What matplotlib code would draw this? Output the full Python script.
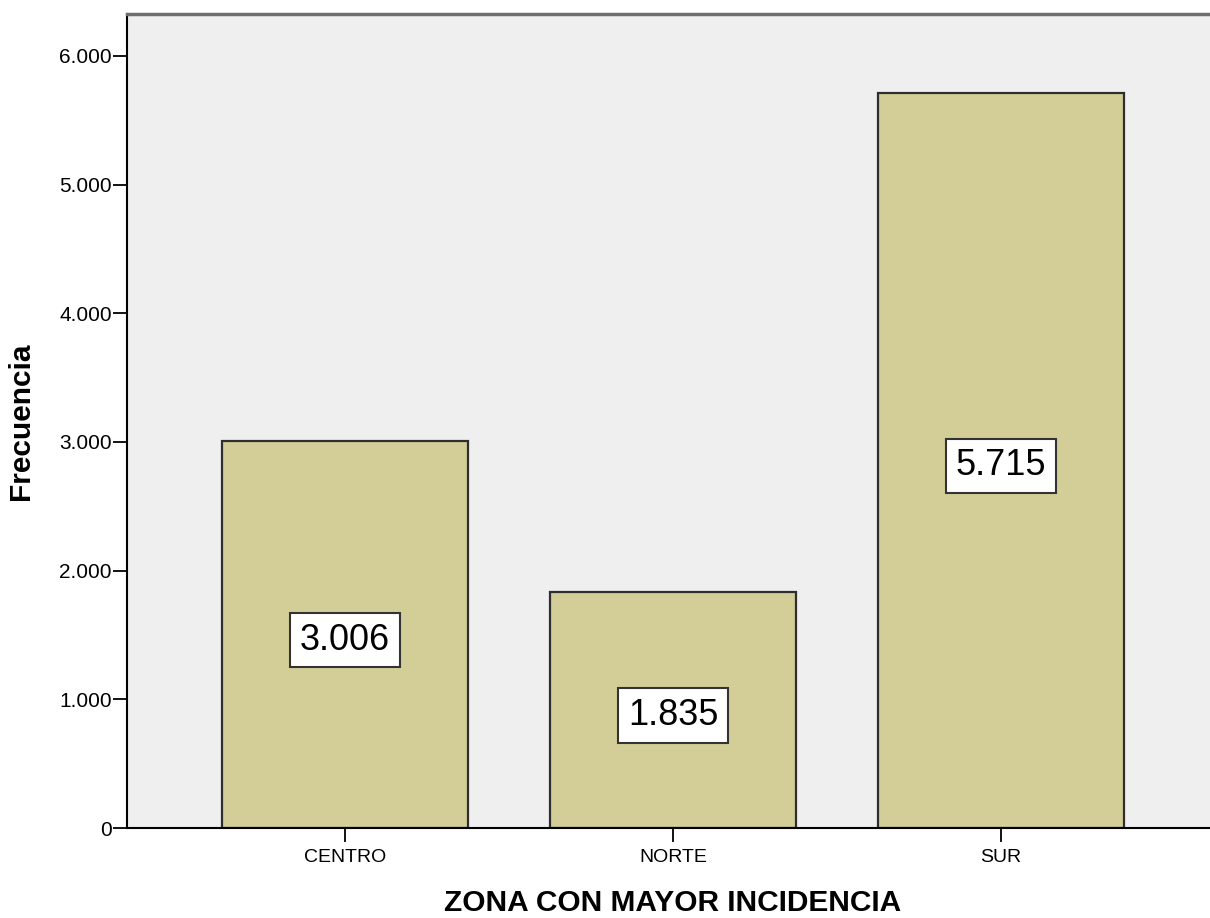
import matplotlib.pyplot as plt
from matplotlib.ticker import FuncFormatter

plt.rcParams['font.family'] = ['Liberation Sans', 'DejaVu Sans']

# data
zonas = ['CENTRO', 'NORTE', 'SUR']
frecuencias = [3006, 1835, 5715]
etiquetas = ['3.006', '1.835', '5.715']
y_ticks = [0, 1000, 2000, 3000, 4000, 5000, 6000]


def miles(v, pos):
    # SPSS style thousands separator
    return f"{int(v):,}".replace(',', '.')


fig = plt.figure(figsize=(12.1, 9.18), dpi=100)
ax = fig.add_axes([127 / 1210, 1 - 828 / 918, 1 - 127 / 1210, (828 - 14) / 918])
ax.set_facecolor('#efefef')

x = list(range(len(zonas)))
ax.bar(x, frecuencias, width=0.75, color='#d3ce97', edgecolor='#2e2e2e', linewidth=1.6)

# value boxes in the middle of each bar
for xi, val, txt in zip(x, frecuencias, etiquetas):
    ax.annotate(txt, (xi, val / 2), xytext=(0, -4), textcoords='offset points',
                ha='center', va='center', fontsize=26,
                bbox=dict(boxstyle='square,pad=0.27', facecolor='white',
                          edgecolor='#333333', linewidth=1.5))

ax.set_xlim(-0.665, 2.637)
ax.set_ylim(0, 6326)
ax.set_xticks(x)
ax.set_xticklabels(zonas, fontsize=14)
ax.set_yticks(y_ticks)
ax.yaxis.set_major_formatter(FuncFormatter(miles))
ax.tick_params(axis='y', labelsize=15, length=10, width=1.3, pad=1)
ax.tick_params(axis='x', length=10, width=1.3, pad=5)

ax.spines['right'].set_visible(False)
ax.spines['left'].set_linewidth(1.5)
ax.spines['bottom'].set_linewidth(1.5)
ax.spines['top'].set_color('#6e6e6e')
ax.spines['top'].set_linewidth(2.5)

ax.set_xlabel('ZONA CON MAYOR INCIDENCIA', fontsize=21.5, fontweight='bold')
ax.xaxis.set_label_coords(0.504, -0.0755)
ax.set_ylabel('Frecuencia', fontsize=21.5, fontweight='bold')
ax.yaxis.set_label_coords(-0.085, 0.5)

# title is cut off at the top of the image, as in the original
fig.text(0.469, 1.0015, 'ZONA CON MAYOR INCIDENCIA', ha='center', va='baseline',
         fontsize=20, fontweight='bold')

fig.savefig('out.png', dpi=100)
